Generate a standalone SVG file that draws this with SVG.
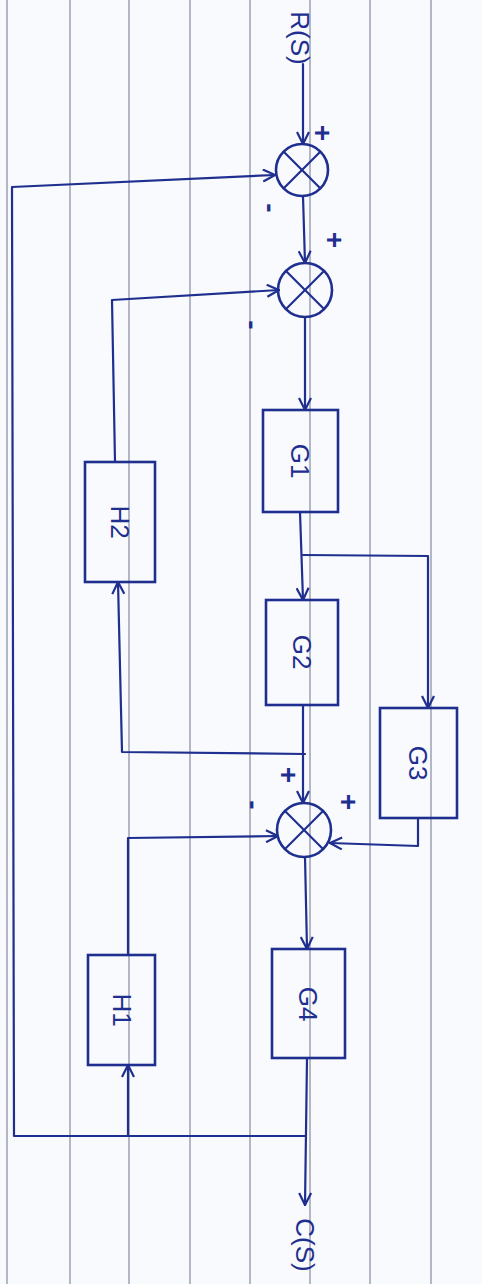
<svg xmlns="http://www.w3.org/2000/svg" width="482" height="1284" viewBox="0 0 482 1284">
<style>
.paper{stroke:#8e93a8;stroke-width:1.3;fill:none}
.ink{stroke:#1f2f8f;stroke-width:2.2;fill:none;stroke-linecap:round;stroke-linejoin:round}
.box{stroke:#1f2f8f;stroke-width:2.6;fill:none}
.sum{stroke:#1f2f8f;stroke-width:2.6;fill:none}
.lbl{font-family:"Liberation Sans",Arial,sans-serif;font-size:26px;fill:#1f2f8f;text-anchor:middle;dominant-baseline:central}
.sgn{font-family:"Liberation Sans",Arial,sans-serif;font-size:28px;font-weight:bold;fill:#1f2f8f;text-anchor:middle;dominant-baseline:central}
</style>
<defs>
<marker id="arr" viewBox="0 0 14 14" refX="13" refY="7" markerWidth="14" markerHeight="14" markerUnits="userSpaceOnUse" orient="auto">
<path d="M1,1 L13,7 L1,13" fill="none" stroke="#1f2f8f" stroke-width="2.2"/>
</marker>
</defs>
<rect width="482" height="1284" fill="#f9fafd"/>
<g id="paper">
<line class="paper" x1="7" y1="0" x2="7" y2="1284"/>
<line class="paper" x1="70" y1="0" x2="70" y2="1284"/>
<line class="paper" x1="129" y1="0" x2="129" y2="1284"/>
<line class="paper" x1="190" y1="0" x2="190" y2="1284"/>
<line class="paper" x1="250" y1="0" x2="250" y2="1284"/>
<line class="paper" x1="310" y1="0" x2="310" y2="1284"/>
<line class="paper" x1="370" y1="0" x2="370" y2="1284"/>
<line class="paper" x1="431" y1="0" x2="431" y2="1284"/>
</g>
<g id="connectors">
<path class="ink" d="M303 64 L303 144" marker-end="url(#arr)"/>
<path class="ink" d="M303 196 L305 263" marker-end="url(#arr)"/>
<path class="ink" d="M305 1136 L14 1136 L12 187 L275 175" marker-end="url(#arr)"/>
<path class="ink" d="M305 317 L305 410" marker-end="url(#arr)"/>
<path class="ink" d="M115 462 L112 300 L279 290" marker-end="url(#arr)"/>
<path class="ink" d="M300 512 L303 600" marker-end="url(#arr)"/>
<path class="ink" d="M303 555 L428 556 L428 708" marker-end="url(#arr)"/>
<path class="ink" d="M303 705 L303 803" marker-end="url(#arr)"/>
<path class="ink" d="M305 754 L122 752 L118 582" marker-end="url(#arr)"/>
<path class="ink" d="M418 818 L418 846 L330 843" marker-end="url(#arr)"/>
<path class="ink" d="M128 955 L128 838 L278 836" marker-end="url(#arr)"/>
<path class="ink" d="M128 1136 L128 1065" marker-end="url(#arr)"/>
<path class="ink" d="M305 857 L307 949" marker-end="url(#arr)"/>
<path class="ink" d="M307 1058 L305 1205" marker-end="url(#arr)"/>
</g>
<g id="S1">
<circle class="sum" cx="302" cy="170" r="26"/>
<line class="ink" x1="284" y1="152" x2="320" y2="188"/>
<line class="ink" x1="320" y1="152" x2="284" y2="188"/>
<text class="sgn" transform="translate(322,133) rotate(90)">+</text>
<text class="sgn" transform="translate(270,208) rotate(90)">-</text>
</g>
<g id="S2">
<circle class="sum" cx="305" cy="290" r="27"/>
<line class="ink" x1="286" y1="271" x2="324" y2="309"/>
<line class="ink" x1="324" y1="271" x2="286" y2="309"/>
<text class="sgn" transform="translate(334,240) rotate(90)">+</text>
<text class="sgn" transform="translate(252,325) rotate(90)">-</text>
</g>
<g id="S3">
<circle class="sum" cx="304" cy="830" r="27"/>
<line class="ink" x1="285" y1="811" x2="323" y2="849"/>
<line class="ink" x1="323" y1="811" x2="285" y2="849"/>
<text class="sgn" transform="translate(288,775) rotate(90)">+</text>
<text class="sgn" transform="translate(253,805) rotate(90)">-</text>
<text class="sgn" transform="translate(348,802) rotate(90)">+</text>
</g>
<g id="G1">
<rect class="box" x="263" y="410" width="75" height="102"/>
<text class="lbl" transform="translate(300,461) rotate(90)">G1</text>
</g>
<g id="G2">
<rect class="box" x="266" y="600" width="72" height="105"/>
<text class="lbl" transform="translate(302,652) rotate(90)">G2</text>
</g>
<g id="G3">
<rect class="box" x="380" y="708" width="77" height="110"/>
<text class="lbl" transform="translate(418,763) rotate(90)">G3</text>
</g>
<g id="G4">
<rect class="box" x="272" y="949" width="73" height="109"/>
<text class="lbl" transform="translate(308,1004) rotate(90)">G4</text>
</g>
<g id="H2">
<rect class="box" x="85" y="462" width="70" height="120"/>
<text class="lbl" transform="translate(120,522) rotate(90)">H2</text>
</g>
<g id="H1">
<rect class="box" x="88" y="955" width="67" height="110"/>
<text class="lbl" transform="translate(122,1010) rotate(90)">H1</text>
</g>
<g id="io">
<text class="lbl" transform="translate(300,38) rotate(90)">R(S)</text>
<text class="lbl" transform="translate(305,1245) rotate(90)">C(S)</text>
</g>
</svg>
